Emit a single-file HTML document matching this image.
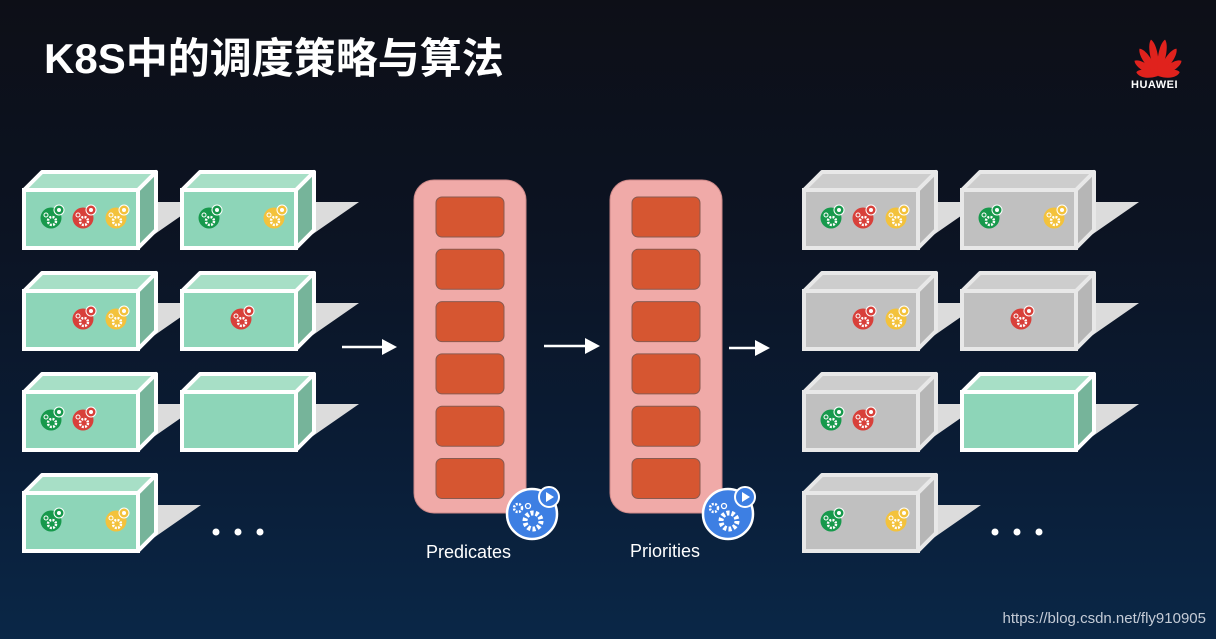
<!DOCTYPE html>
<html><head><meta charset="utf-8"><style>
html,body{margin:0;padding:0;width:1216px;height:639px;overflow:hidden;}
body{background:linear-gradient(180deg,#0d0f17 0%,#0c1322 35%,#0a1c35 70%,#0a2747 100%);position:relative;font-family:"Liberation Sans",sans-serif;}
.title{position:absolute;left:44px;top:25px;font:bold 42px "Liberation Sans","Noto Sans CJK SC",sans-serif;color:#fff;letter-spacing:0px;}
.lbl{position:absolute;color:#fff;font-size:18px;}
.wm{position:absolute;right:10px;top:610px;color:#c4cbd6;font-size:15px;}
svg{position:absolute;left:0;top:0;}
</style></head><body>
<div class="title">K8S中的调度策略与算法</div>
<svg id="s" width="1216" height="639" viewBox="0 0 1216 639"></svg>
<div class="lbl" style="left:426px;top:542px">Predicates</div>
<div class="lbl" style="left:630px;top:541px">Priorities</div>
<div class="wm">https://blog.csdn.net/fly910905</div>
<div style="position:absolute;left:1131px;top:79px;color:#fff;font:bold 11px 'Liberation Sans',sans-serif;letter-spacing:0.5px">HUAWEI</div>
<script>
var s='';
function box(x,y,grey,icons){
 var w=114,h=58,d=18,fr=x+w;
 var ft=grey?'#c0c0c0':'#8dd5b8',tp=grey?'#cdcdcd':'#a7dfc6',sd=grey?'#b6b6b6':'#76b49a',st=grey?'#e8e8e8':'#ffffff';
 s+='<polygon points="'+fr+','+(y+12)+' '+(fr+63)+','+(y+12)+' '+(fr+14)+','+(y+46)+' '+fr+','+(y+58)+'" fill="#dcdcdc"/>';
 s+='<polygon points="'+x+','+y+' '+(x+d)+','+(y-d)+' '+(fr+d)+','+(y-d)+' '+fr+','+y+'" fill="'+tp+'" stroke="'+st+'" stroke-width="4" stroke-linejoin="round"/>';
 s+='<polygon points="'+fr+','+y+' '+(fr+d)+','+(y-d)+' '+(fr+d)+','+(y+h-d)+' '+fr+','+(y+h)+'" fill="'+sd+'" stroke="'+st+'" stroke-width="4" stroke-linejoin="round"/>';
 s+='<rect x="'+x+'" y="'+y+'" width="'+w+'" height="'+h+'" fill="'+ft+'" stroke="'+st+'" stroke-width="4"/>';
 var cols={g:'#17994c',r:'#d8403a',y:'#f3c23c'};
 icons.forEach(function(ic){var cx=x+ic[1],cy=y+28,c=cols[ic[0]];
  s+='<circle cx="'+cx+'" cy="'+cy+'" r="10.5" fill="'+c+'"/><circle cx="'+(cx+8)+'" cy="'+(cy-8)+'" r="5" fill="'+c+'" stroke="#fff" stroke-width="1"/><circle cx="'+(cx+8)+'" cy="'+(cy-8)+'" r="2" fill="#fff"/>';
  s+='<circle cx="'+(cx+1)+'" cy="'+(cy+3)+'" r="4" fill="none" stroke="#fff" stroke-width="2.5" stroke-dasharray="2 1.2"/><circle cx="'+(cx-5)+'" cy="'+(cy-3)+'" r="2" fill="none" stroke="#fff" stroke-width="1"/>';
 });
}
var R=[190,291,392,493];
box(24,R[0],0,[['g',27],['r',59],['y',92]]); box(182,R[0],0,[['g',27],['y',92]]);
box(24,R[1],0,[['r',59],['y',92]]); box(182,R[1],0,[['r',59]]);
box(24,R[2],0,[['g',27],['r',59]]); box(182,R[2],0,[]);
box(24,R[3],0,[['g',27],['y',92]]);
box(804,R[0],1,[['g',27],['r',59],['y',92]]); box(962,R[0],1,[['g',27],['y',92]]);
box(804,R[1],1,[['r',59],['y',92]]); box(962,R[1],1,[['r',59]]);
box(804,R[2],1,[['g',27],['r',59]]); box(962,R[2],0,[]);
box(804,R[3],1,[['g',27],['y',92]]);
[414,610].forEach(function(px){
 s+='<rect x="'+px+'" y="180" width="112" height="333" rx="20" fill="#f0aaa8" stroke="#c88" stroke-width="1"/>';
 for(var i=0;i<6;i++){s+='<rect x="'+(px+22)+'" y="'+(197+i*52.3)+'" width="68" height="40" rx="6" fill="#d65631" stroke="#8a5a50" stroke-width="1"/>';}
 var cx=px+118,cy=514;
 s+='<circle cx="'+cx+'" cy="'+cy+'" r="25" fill="#3d7fe3" stroke="#fff" stroke-width="2.5"/><circle cx="'+(cx+17)+'" cy="'+(cy-17)+'" r="10" fill="#3d7fe3" stroke="#fff" stroke-width="2"/><polygon points="'+(cx+14)+','+(cy-22)+' '+(cx+22)+','+(cy-17)+' '+(cx+14)+','+(cy-12)+'" fill="#fff"/>';
 s+='<circle cx="'+(cx+1)+'" cy="'+(cy+7)+'" r="8" fill="none" stroke="#fff" stroke-width="5" stroke-dasharray="3 2"/><circle cx="'+(cx-14)+'" cy="'+(cy-6)+'" r="4" fill="none" stroke="#fff" stroke-width="2.5" stroke-dasharray="2 1.3"/><circle cx="'+(cx-4)+'" cy="'+(cy-8)+'" r="2.5" fill="none" stroke="#fff" stroke-width="1.3"/>';
});
function arr(x1,x2,y){s+='<line x1="'+x1+'" y1="'+y+'" x2="'+(x2-12)+'" y2="'+y+'" stroke="#fff" stroke-width="2.5"/><polygon points="'+(x2-15)+','+(y-8)+' '+x2+','+y+' '+(x2-15)+','+(y+8)+'" fill="#fff"/>';}
arr(342,397,347); arr(544,600,346); arr(729,770,348);
[216,238,260,995,1017,1039].forEach(function(x){s+='<circle cx="'+x+'" cy="532" r="3.5" fill="#fff"/>';});
var lx=1158,ly=76;
[[-80,22],[-57,28],[-34,33],[-11,37],[11,37],[34,33],[57,28],[80,22]].forEach(function(p){
 var L=p[1];
 s+='<path d="M'+lx+','+ly+' C'+(lx-6)+','+(ly-L*0.5)+' '+(lx-4)+','+(ly-L*0.9)+' '+lx+','+(ly-L)+' C'+(lx+4)+','+(ly-L*0.9)+' '+(lx+6)+','+(ly-L*0.5)+' '+lx+','+ly+'Z" fill="#e0221d" transform="rotate('+p[0]+' '+lx+' '+ly+')"/>';
});
document.getElementById('s').innerHTML=s;
</script>
</body></html>
